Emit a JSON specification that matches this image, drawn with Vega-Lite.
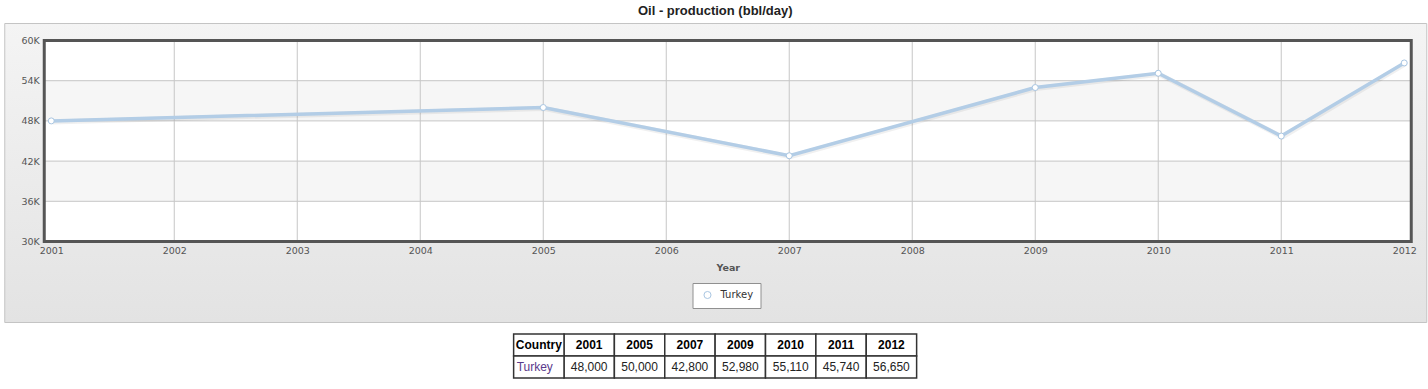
{
  "$schema": "https://vega.github.io/schema/vega-lite/v6.json",
  "background": "white",
  "padding": {"left": 3, "top": 4, "right": 3, "bottom": 5},
  "title": {"text": "Oil - production (bbl/day)", "anchor": "middle", "font": "Liberation Sans", "fontSize": 13, "fontWeight": "bold", "color": "#222222", "offset": 5},
  "datasets": {
    "oil": [
      {"Country": "Turkey", "Year": 2001, "Production": 48000},
      {"Country": "Turkey", "Year": 2005, "Production": 50000},
      {"Country": "Turkey", "Year": 2007, "Production": 42800},
      {"Country": "Turkey", "Year": 2009, "Production": 52980},
      {"Country": "Turkey", "Year": 2010, "Production": 55110},
      {"Country": "Turkey", "Year": 2011, "Production": 45740},
      {"Country": "Turkey", "Year": 2012, "Production": 56650}
    ],
    "xgrid": [{"Year": 2002}, {"Year": 2003}, {"Year": 2004}, {"Year": 2005}, {"Year": 2006}, {"Year": 2007}, {"Year": 2008}, {"Year": 2009}, {"Year": 2010}, {"Year": 2011}],
    "ygrid": [{"v": 36000}, {"v": 42000}, {"v": 48000}, {"v": 54000}],
    "bands": [{"lo": 36000, "hi": 42000}, {"lo": 48000, "hi": 54000}],
    "one": [{}]
  },
  "center": true,
  "spacing": 10,
  "vconcat": [
    {
      "width": 1422,
      "height": 299,
      "view": {"fill": {"gradient": "linear", "x1": 0, "y1": 0, "x2": 0, "y2": 1, "stops": [{"offset": 0, "color": "#f4f4f4"}, {"offset": 1, "color": "#e3e3e3"}]}, "stroke": "#c4c4c4", "strokeWidth": 1},
      "resolve": {"axis": {"x": "independent", "y": "independent"}},
      "layer": [
        {
          "data": {"name": "one"},
          "mark": {"type": "rect", "fill": "white"},
          "encoding": {
            "x": {"datum": 2000.943, "type": "quantitative", "axis": null, "scale": {"domain": [2000.943, 2012.057], "range": [40, 1407], "nice": false, "zero": false}},
            "x2": {"datum": 2012.057},
            "y": {"datum": 30000, "type": "quantitative", "axis": null, "scale": {"domain": [30000, 60000], "range": [218.5, 17.5], "nice": false, "zero": false}},
            "y2": {"datum": 60000}
          }
        },
        {
          "data": {"name": "bands"},
          "mark": {"type": "rect", "fill": "#f6f6f6"},
          "encoding": {
            "x": {"datum": 2000.943, "type": "quantitative", "axis": null},
            "x2": {"datum": 2012.057},
            "y": {"field": "lo", "type": "quantitative", "axis": null},
            "y2": {"field": "hi"}
          }
        },
        {
          "data": {"name": "ygrid"},
          "mark": {"type": "rule", "stroke": "#c6c6c6", "strokeWidth": 1},
          "encoding": {
            "x": {"datum": 2000.943, "type": "quantitative", "axis": null},
            "x2": {"datum": 2012.057},
            "y": {"field": "v", "type": "quantitative", "axis": null}
          }
        },
        {
          "data": {"name": "xgrid"},
          "mark": {"type": "rule", "stroke": "#c6c6c6", "strokeWidth": 1},
          "encoding": {
            "x": {"field": "Year", "type": "quantitative", "axis": null},
            "y": {"datum": 30000, "type": "quantitative", "axis": null},
            "y2": {"datum": 60000}
          }
        },
        {
          "data": {"name": "one"},
          "mark": {"type": "rect", "fillOpacity": 0, "stroke": "#555555", "strokeWidth": 3},
          "encoding": {
            "x": {"datum": 2000.943, "type": "quantitative", "axis": null},
            "x2": {"datum": 2012.057},
            "y": {"datum": 30000, "type": "quantitative", "axis": null},
            "y2": {"datum": 60000}
          }
        },
        {
          "data": {"name": "oil"},
          "mark": {"type": "line", "stroke": "#000000", "strokeOpacity": 0.06, "strokeWidth": 5, "xOffset": 1, "yOffset": 1},
          "encoding": {
            "x": {"field": "Year", "type": "quantitative", "axis": null},
            "y": {"field": "Production", "type": "quantitative", "axis": null}
          }
        },
        {
          "data": {"name": "oil"},
          "mark": {"type": "line", "stroke": "#b3cde6", "strokeWidth": 3.5},
          "encoding": {
            "x": {"field": "Year", "type": "quantitative",
              "axis": {"values": [2001, 2002, 2003, 2004, 2005, 2006, 2007, 2008, 2009, 2010, 2011, 2012], "format": "d", "title": "Year", "orient": "bottom", "offset": -80.5, "domain": false, "ticks": false, "tickSize": 0, "grid": false, "labelPadding": 4, "labelFont": "DejaVu Sans", "labelFontSize": 9.5, "labelColor": "#555555", "labelFlush": false, "labelOverlap": false, "titleFont": "DejaVu Sans", "titleFontSize": 9.5, "titleFontWeight": "bold", "titleColor": "#555555", "titlePadding": 7}},
            "y": {"field": "Production", "type": "quantitative",
              "axis": {"values": [30000, 36000, 42000, 48000, 54000, 60000], "labelExpr": "(datum.value/1000) + 'K'", "title": null, "orient": "left", "offset": -40, "domain": false, "ticks": false, "tickSize": 0, "grid": false, "labelPadding": 5, "labelFont": "DejaVu Sans", "labelFontSize": 9.5, "labelColor": "#555555", "labelOverlap": false}}
          }
        },
        {
          "data": {"name": "oil"},
          "mark": {"type": "point", "shape": "circle", "filled": true, "fill": "white", "size": 36, "strokeWidth": 1, "opacity": 1},
          "encoding": {
            "x": {"field": "Year", "type": "quantitative", "axis": null},
            "y": {"field": "Production", "type": "quantitative", "axis": null},
            "stroke": {"field": "Country", "type": "nominal", "scale": {"range": ["#a9c6e2"]},
              "legend": {"orient": "none", "legendX": 688.5, "legendY": 260, "title": null, "fillColor": "white", "strokeColor": "#909090", "padding": 7, "symbolType": "circle", "symbolSize": 50, "symbolOffset": 3, "labelOffset": 8, "symbolFillColor": "white", "symbolStrokeWidth": 1, "labelFont": "DejaVu Sans", "labelFontSize": 10, "labelColor": "#333333"}}
          }
        }
      ]
    },
    {
      "width": 403,
      "height": 44,
      "view": {"stroke": null},
      "layer": [
        {
          "data": {"name": "oil"},
          "mark": {"type": "rect", "fill": "white", "stroke": "#333333", "strokeWidth": 1.5},
          "encoding": {
            "x": {"field": "Year", "type": "ordinal", "axis": null, "scale": {"domain": ["Country", 2001, 2005, 2007, 2009, 2010, 2011, 2012], "paddingInner": 0, "paddingOuter": 0}},
            "y": {"datum": "header", "type": "nominal", "axis": null, "scale": {"domain": ["header", "row"], "paddingInner": 0, "paddingOuter": 0}}
          }
        },
        {
          "data": {"name": "oil"},
          "mark": {"type": "rect", "fill": "white", "stroke": "#333333", "strokeWidth": 1.5},
          "encoding": {
            "x": {"field": "Year", "type": "ordinal", "axis": null},
            "y": {"datum": "row", "type": "nominal", "axis": null}
          }
        },
        {
          "data": {"name": "oil"},
          "transform": [{"aggregate": [{"op": "count", "as": "n"}], "groupby": ["Country"]}],
          "mark": {"type": "rect", "fill": "white", "stroke": "#333333", "strokeWidth": 1.5},
          "encoding": {
            "x": {"datum": "Country", "type": "ordinal", "axis": null},
            "y": {"datum": "header", "type": "nominal", "axis": null}
          }
        },
        {
          "data": {"name": "oil"},
          "transform": [{"aggregate": [{"op": "count", "as": "n"}], "groupby": ["Country"]}],
          "mark": {"type": "rect", "fill": "white", "stroke": "#333333", "strokeWidth": 1.5},
          "encoding": {
            "x": {"datum": "Country", "type": "ordinal", "axis": null},
            "y": {"datum": "row", "type": "nominal", "axis": null}
          }
        },
        {
          "data": {"name": "oil"},
          "mark": {"type": "text", "font": "Liberation Sans", "fontSize": 12, "fontWeight": "bold", "color": "#000000"},
          "encoding": {
            "x": {"field": "Year", "type": "ordinal", "axis": null},
            "y": {"datum": "header", "type": "nominal", "axis": null},
            "text": {"field": "Year", "type": "ordinal"}
          }
        },
        {
          "data": {"name": "oil"},
          "mark": {"type": "text", "font": "Liberation Sans", "fontSize": 12, "color": "#222222"},
          "encoding": {
            "x": {"field": "Year", "type": "ordinal", "axis": null},
            "y": {"datum": "row", "type": "nominal", "axis": null},
            "text": {"field": "Production", "type": "quantitative", "format": ","}
          }
        },
        {
          "data": {"name": "oil"},
          "transform": [{"aggregate": [{"op": "count", "as": "n"}], "groupby": ["Country"]}],
          "mark": {"type": "text", "text": "Country", "font": "Liberation Sans", "fontSize": 12, "fontWeight": "bold", "color": "#000000"},
          "encoding": {
            "x": {"datum": "Country", "type": "ordinal", "axis": null},
            "y": {"datum": "header", "type": "nominal", "axis": null}
          }
        },
        {
          "data": {"name": "oil"},
          "transform": [{"aggregate": [{"op": "count", "as": "n"}], "groupby": ["Country"]}],
          "mark": {"type": "text", "align": "left", "dx": 3, "font": "Liberation Sans", "fontSize": 12, "color": "#5a3a8c"},
          "encoding": {
            "x": {"datum": "Country", "type": "ordinal", "axis": null, "bandPosition": 0},
            "y": {"datum": "row", "type": "nominal", "axis": null},
            "text": {"field": "Country", "type": "nominal"}
          }
        }
      ]
    }
  ],
  "config": {
    "view": {"stroke": null}
  }
}
